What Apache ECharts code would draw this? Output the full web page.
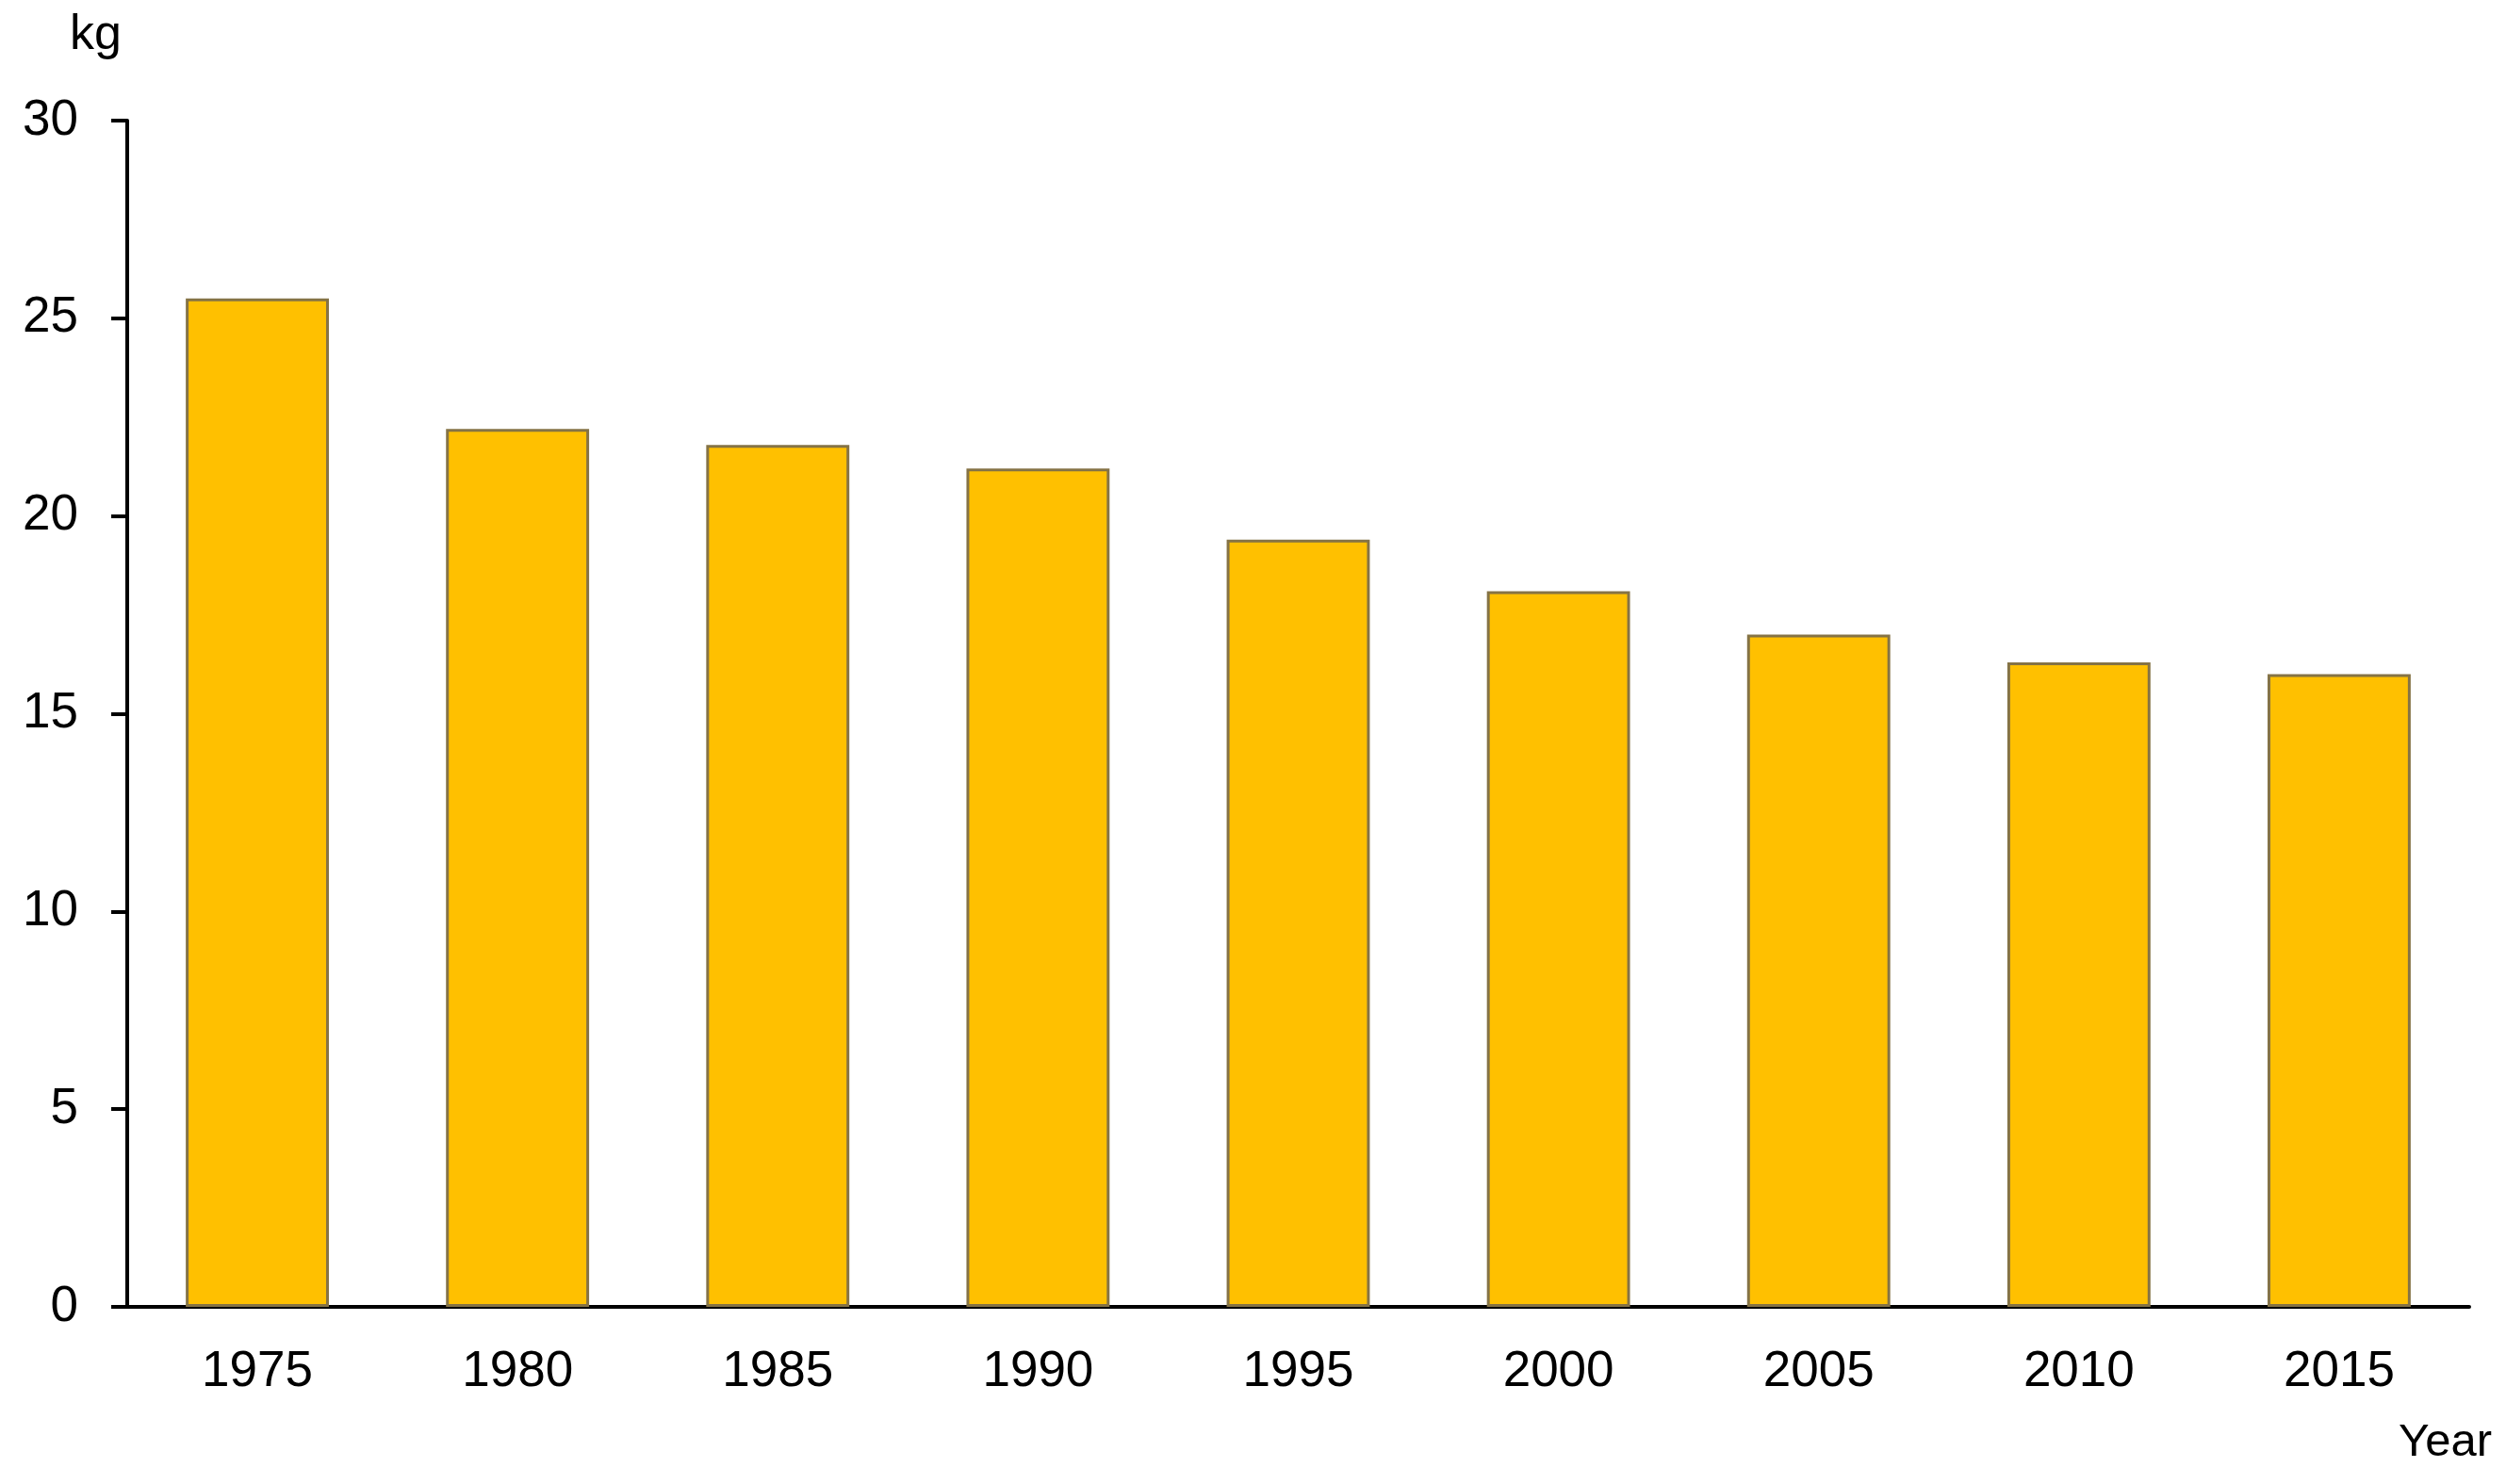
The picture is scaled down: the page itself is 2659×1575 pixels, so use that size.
<!DOCTYPE html>
<html>
<head>
<meta charset="utf-8">
<script src="https://cdn.jsdelivr.net/npm/echarts@6/dist/echarts.min.js"></script>
<style>
html,body{margin:0;padding:0;background:#fff;}
#chart{width:2659px;height:1575px;}
</style>
</head>
<body>
<div id="chart"></div>
<script>
var years = ['1975','1980','1985','1990','1995','2000','2005','2010','2015'];
var values = [25.5, 22.2, 21.8, 21.2, 19.4, 18.1, 17.0, 16.3, 16.0];
var yTicks = [0, 5, 10, 15, 20, 25, 30];
var yUnit = 'kg';
var xUnit = 'Year';

var chart = echarts.init(document.getElementById('chart'));
var font = 'Liberation Sans, Arial, sans-serif';
chart.setOption({
  animation: false,
  backgroundColor: '#ffffff',
  grid: {left: 135, right: 39, top: 128, bottom: 188, containLabel: false},
  xAxis: {
    type: 'category',
    data: years,
    name: xUnit,
    nameLocation: 'end',
    nameGap: -75,
    nameTextStyle: {color: '#000', fontSize: 49, fontFamily: font, verticalAlign: 'top', padding: [120, 0, 0, 0]},
    axisLine: {lineStyle: {color: '#000', width: 4}},
    axisTick: {show: false},
    axisLabel: {color: '#000', fontSize: 53, fontFamily: font, margin: 43}
  },
  yAxis: {
    type: 'value',
    min: yTicks[0],
    max: yTicks[yTicks.length - 1],
    interval: 5,
    name: yUnit,
    nameLocation: 'end',
    nameGap: 64,
    nameTextStyle: {color: '#000', fontSize: 52, fontFamily: font, align: 'right', padding: [0, 6, 0, 0]},
    axisLine: {show: true, lineStyle: {color: '#000', width: 4}},
    axisTick: {show: true, length: 17, lineStyle: {color: '#000', width: 4}},
    splitLine: {show: false},
    axisLabel: {color: '#000', fontSize: 53, fontFamily: font, margin: 52}
  },
  series: [{
    type: 'bar',
    data: values,
    barWidth: '55%',
    itemStyle: {color: '#FFC000', borderColor: '#857345', borderWidth: 3}
  }]
});
</script>
</body>
</html>
